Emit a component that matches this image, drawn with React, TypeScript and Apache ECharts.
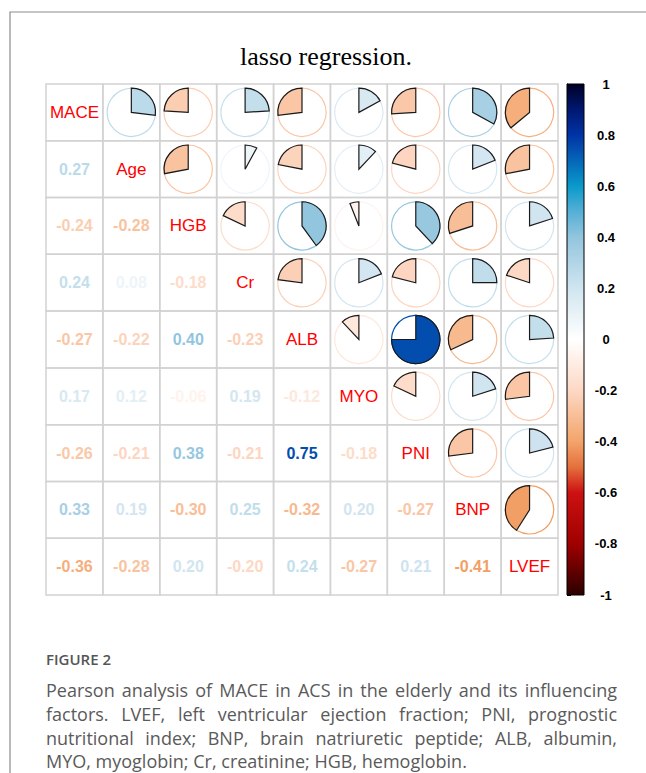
import React, { useEffect, useRef } from "react";
import * as echarts from "echarts";

const labels = ["MACE", "Age", "HGB", "Cr", "ALB", "MYO", "PNI", "BNP", "LVEF"];
// lower triangle, row i (from Age) vs columns 0..i-1
const lowerRows: number[][] = [
  [0.27],
  [-0.24, -0.28],
  [0.24, 0.08, -0.18],
  [-0.27, -0.22, 0.4, -0.23],
  [0.17, 0.12, -0.06, 0.19, -0.12],
  [-0.26, -0.21, 0.38, -0.21, 0.75, -0.18],
  [0.33, 0.19, -0.3, 0.25, -0.32, 0.2, -0.27],
  [-0.36, -0.28, 0.2, -0.2, 0.24, -0.27, 0.21, -0.41],
];
const legendTicks = [-1, -0.8, -0.6, -0.4, -0.2, 0, 0.2, 0.4, 0.6, 0.8, 1];
const paletteStops: [number, string][] = [
  [-1, "#2b0000"],
  [-0.9, "#660000"],
  [-0.8, "#a00000"],
  [-0.6, "#cc1111"],
  [-0.5, "#e4703c"],
  [-0.4, "#f3a46a"],
  [-0.2, "#fdd8c4"],
  [0, "#ffffff"],
  [0.2, "#d1e5f0"],
  [0.4, "#92c5de"],
  [0.5, "#55b0d6"],
  [0.6, "#0a9acb"],
  [0.8, "#0033a6"],
  [0.9, "#001870"],
  [1, "#000026"],
];
const titleText = "lasso regression.";
const figureLabel = "FIGURE 2";
const captionLines = [
  "Pearson analysis of MACE in ACS in the elderly and its influencing",
  "factors. LVEF, left ventricular ejection fraction; PNI, prognostic",
  "nutritional index; BNP, brain natriuretic peptide; ALB, albumin,",
  "MYO, myoglobin; Cr, creatinine; HGB, hemoglobin.",
];

function hexToRgb(h: string) {
  const n = parseInt(h.slice(1), 16);
  return [(n >> 16) & 255, (n >> 8) & 255, n & 255];
}
function colorOf(v: number) {
  for (let k = 0; k < paletteStops.length - 1; k++) {
    const [a, ca] = paletteStops[k];
    const [b, cb] = paletteStops[k + 1];
    if (v >= a && v <= b) {
      const t = (v - a) / (b - a);
      const A = hexToRgb(ca), B = hexToRgb(cb);
      const c = A.map((x, i) => Math.round(x + (B[i] - x) * t));
      return `rgb(${c[0]},${c[1]},${c[2]})`;
    }
  }
  return "#fff";
}

const n = labels.length;
const matrix: number[][] = Array.from({ length: n }, () => Array(n).fill(1));
lowerRows.forEach((row, ri) => {
  row.forEach((v, c) => {
    matrix[ri + 1][c] = v;
    matrix[c][ri + 1] = v;
  });
});

const cellData: any[] = [];
for (let r = 0; r < n; r++) for (let c = 0; c < n; c++) cellData.push([c, r, matrix[r][c]]);

const CAPTION_FONT = '18px "Open Sans"';

export default function App() {
  const ref = useRef<HTMLDivElement>(null);
  useEffect(() => {
    if (!ref.current) return;
    const chart = echarts.init(ref.current, null, { renderer: "svg" });

    const canvas = document.createElement("canvas");
    const ctx = canvas.getContext("2d")!;
    ctx.font = CAPTION_FONT;
    const capLeft = 46;
    const capRight = 617;
    const capY = [690, 714, 738, 761];
    const capElems: any[] = [];
    captionLines.forEach((line, li) => {
      if (li === captionLines.length - 1) {
        capElems.push({
          type: "text", x: capLeft, y: capY[li],
          style: { text: line, font: CAPTION_FONT, fill: "#5a5a5a", verticalAlign: "middle", lineHeight: 18 },
        });
        return;
      }
      const words = line.split(" ");
      const widths = words.map((w) => ctx.measureText(w).width);
      const total = widths.reduce((a, b) => a + b, 0);
      const gap = (capRight - capLeft - total) / (words.length - 1);
      let x = capLeft;
      words.forEach((w, wi) => {
        capElems.push({
          type: "text", x, y: capY[li],
          style: { text: w, font: CAPTION_FONT, fill: "#5a5a5a", verticalAlign: "middle", lineHeight: 18 },
        });
        x += widths[wi] + gap;
      });
    });

    const gradStops = paletteStops.map(([v, c]) => ({ offset: (1 - v) / 2, color: c })).reverse();

    chart.setOption({
      animation: false,
      title: {
        text: titleText, left: 321, top: 38, textAlign: "center",
        textStyle: { fontFamily: "Liberation Serif", fontSize: 26, fontWeight: "normal", color: "#000" },
      },
      grid: [
        { left: 46, top: 84, width: 512, height: 511 },
        { left: 567, top: 84, width: 17, height: 511 },
      ],
      xAxis: [
        { type: "category", data: labels, show: false, gridIndex: 0 },
        { type: "value", min: 0, max: 1, show: false, gridIndex: 1 },
      ],
      yAxis: [
        { type: "category", data: labels, inverse: true, show: false, gridIndex: 0 },
        {
          type: "value", gridIndex: 1, min: -1, max: 1, interval: 0.2, position: "right",
          axisLine: { show: true, lineStyle: { color: "#000", width: 1 } },
          axisTick: { show: true, length: 4, lineStyle: { color: "#000", width: 1 } },
          splitLine: { show: false },
          axisLabel: {
            margin: 22, align: "center", color: "#000", fontWeight: "bold", fontSize: 13,
            fontFamily: "Liberation Sans",
            formatter: (v: number) => String(Math.round(v * 10) / 10),
          },
        },
      ],
      graphic: [
        {
          type: "rect", z: -10, shape: { x: 10, y: 12, width: 700, height: 800 },
          style: { fill: "none", stroke: "#8c8c8c", lineWidth: 1.2 }, silent: true,
        },
        {
          type: "text", left: capLeft, top: 651,
          style: { text: figureLabel, font: '600 15px "Open Sans"', fill: "#555" },
        },
        ...capElems,
      ],
      series: [
        {
          type: "custom", xAxisIndex: 0, yAxisIndex: 0, clip: false, data: cellData,
          renderItem: (params: any, api: any) => {
            const c = api.value(0), r = api.value(1), v = api.value(2);
            const [cx, cy] = api.coord([c, r]);
            const [w, h] = api.size([1, 1]);
            const children: any[] = [
              {
                type: "rect", shape: { x: cx - w / 2, y: cy - h / 2, width: w, height: h },
                style: { fill: "none", stroke: "#d2d2d2", lineWidth: 1.5 },
              },
            ];
            if (r === c) {
              children.push({
                type: "text", x: cx, y: cy,
                style: { text: labels[r], fill: "#ff0000", fontSize: 17, fontFamily: "Liberation Sans", align: "center", verticalAlign: "middle" },
              });
            } else if (r > c) {
              children.push({
                type: "text", x: cx, y: cy,
                style: { text: v.toFixed(2), fill: colorOf(v), fontSize: 16, fontWeight: "bold", fontFamily: "Liberation Sans", align: "center", verticalAlign: "middle" },
              });
            } else {
              const rad = w * 0.425;
              const col = colorOf(v);
              children.push({
                type: "circle", shape: { cx, cy, r: rad },
                style: { fill: "none", stroke: col, lineWidth: 1.2 },
              });
              const top = -Math.PI / 2;
              const span = Math.abs(v) * Math.PI * 2;
              const start = v >= 0 ? top : top - span;
              const end = v >= 0 ? top + span : top;
              children.push({
                type: "sector",
                shape: { cx, cy, r: rad, r0: 0, startAngle: start, endAngle: end, clockwise: true },
                style: { fill: col, stroke: "#1a1a1a", lineWidth: 1.2 },
              });
            }
            return { type: "group", children };
          },
        },
        {
          type: "custom", xAxisIndex: 1, yAxisIndex: 1, clip: false, data: [[0, 1]],
          renderItem: (params: any, api: any) => {
            const p1 = api.coord([0, 1]);
            const p2 = api.coord([1, -1]);
            return {
              type: "rect",
              shape: { x: p1[0], y: p1[1], width: p2[0] - p1[0], height: p2[1] - p1[1] },
              style: {
                fill: new echarts.graphic.LinearGradient(0, 0, 0, 1, gradStops),
                stroke: "#000", lineWidth: 1,
              },
            };
          },
        },
      ],
    });
    return () => chart.dispose();
  }, []);
  return <div ref={ref} style={{ position: "absolute", left: 0, top: 0, width: 646, height: 773 }} />;
}
